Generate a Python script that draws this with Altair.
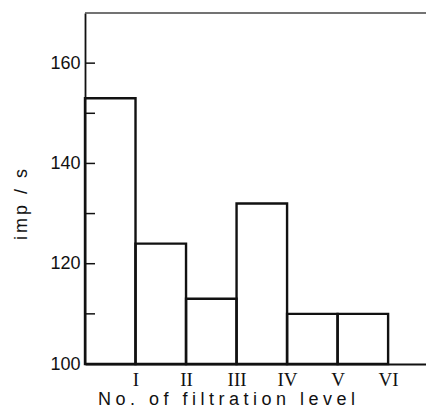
import json
import altair as alt
import pandas as pd

# ---- data ----
LEVELS = ["I", "II", "III", "IV", "V", "VI"]
RATES = [153, 124, 113, 132, 110, 110]
Y_TICKS = [110, 120, 130, 140, 150, 160]
Y_LABELS = [100, 120, 140, 160]
Y_BASE = 100
Y_TOP = 170
X_TITLE = "No. of filtration level"
Y_TITLE = "imp / s"


def spaced(s, sp):
    return sp.join(s)


bars = pd.DataFrame({
    "level": LEVELS,
    "start": list(range(0, len(LEVELS))),
    "end": list(range(1, len(LEVELS) + 1)),
    "rate": RATES,
    "base": [Y_BASE] * len(LEVELS),
})
ticks = pd.DataFrame({"rate": Y_TICKS})
top = pd.DataFrame({"rate": [Y_TOP]})

x_scale = alt.Scale(domain=[0, 6.75], nice=False, zero=False)
y_scale = alt.Scale(domain=[Y_BASE, Y_TOP], nice=False, zero=False)

roman_expr = json.dumps([""] + LEVELS) + "[datum.value]"

y_axis = alt.Axis(
    values=Y_LABELS, grid=False, domain=True, domainColor="#111",
    domainWidth=1.8, ticks=False, tickSize=0, labelPadding=5,
    labelFont="Liberation Sans", labelFontSize=18, labelColor="#111",
    title=spaced(Y_TITLE, "\u2006"), titleFont="Liberation Sans", titleFontSize=18,
    titleFontWeight="normal", titleColor="#111", titleAngle=270,
    titleX=-64, titleY=191, titleAlign="center", titleBaseline="middle",
)

main = alt.Chart(bars).mark_rect(
    fillOpacity=0, stroke="#111", strokeWidth=2.4
).encode(
    x=alt.X("start:Q", scale=x_scale, axis=alt.Axis(
        values=list(range(1, len(LEVELS) + 1)), labelExpr=roman_expr,
        grid=False, domain=True, domainColor="#111", domainWidth=2,
        ticks=False, tickSize=0, labelPadding=6,
        labelFont="Liberation Serif", labelFontSize=19, labelColor="#111",
        title=spaced(X_TITLE, "\u2005"), titleFont="Liberation Sans", titleFontSize=18,
        titleFontWeight="normal", titleColor="#111",
        titleX=141, titleY=40, titleAlign="center", titleBaseline="alphabetic",
    )),
    x2="end:Q",
    y=alt.Y("rate:Q", scale=y_scale, axis=y_axis),
    y2="base:Q",
)

tick_marks = alt.Chart(ticks).mark_rule(color="#111", strokeWidth=1.5).encode(
    y=alt.Y("rate:Q", scale=y_scale, axis=y_axis),
    x=alt.value(0), x2=alt.value(10),
)

top_line = alt.Chart(top).mark_rule(color="#444", strokeWidth=1.3).encode(
    y=alt.Y("rate:Q", scale=y_scale, axis=y_axis),
)

chart = alt.layer(main, tick_marks, top_line).properties(
    width=341, height=351,
    autosize=alt.AutoSizeParams(type="none"),
    padding={"left": 77, "top": 5, "right": 0, "bottom": 45},
    background="white",
).configure_view(stroke=None)

chart.save("out.html", embed_options={"renderer": "svg", "actions": False})
